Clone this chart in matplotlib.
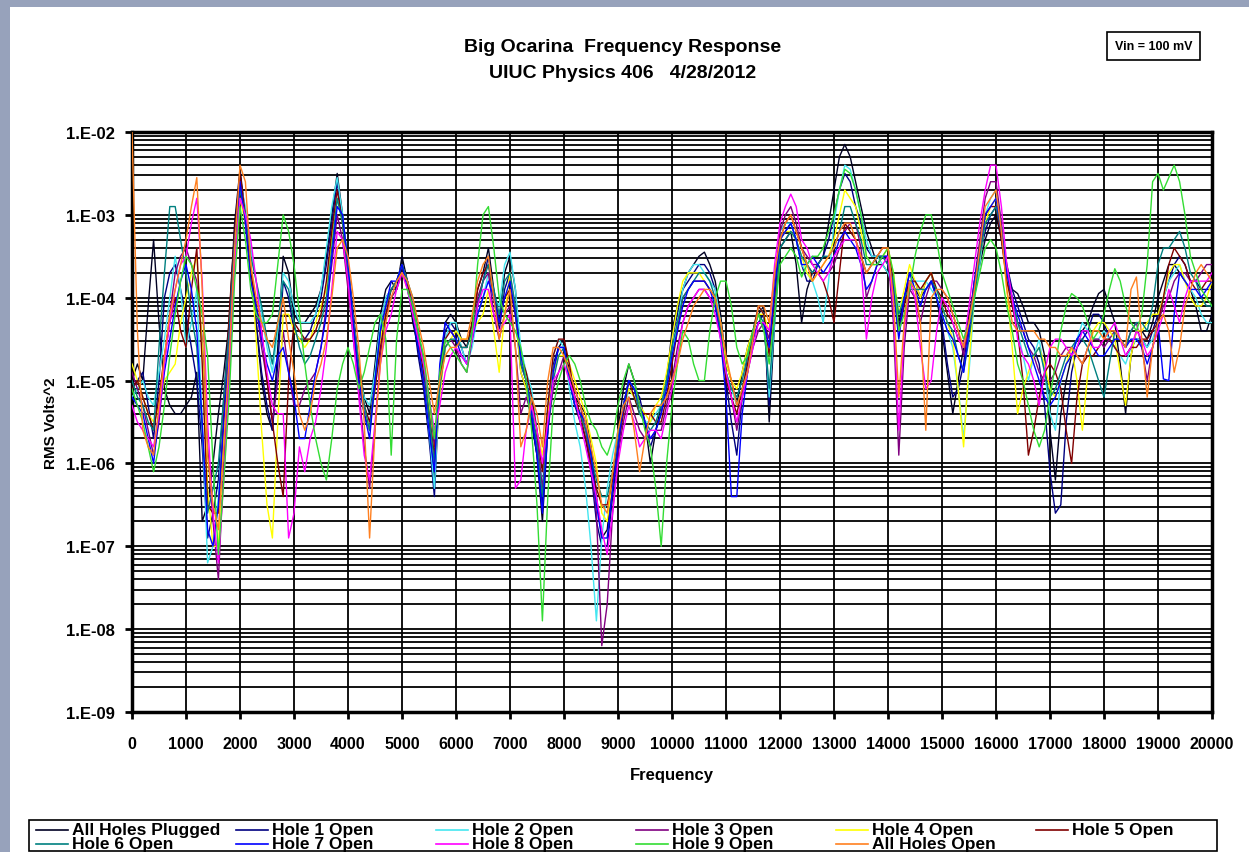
import numpy as np
import matplotlib
matplotlib.use("Agg")
import matplotlib.pyplot as plt
from matplotlib.patches import Rectangle
from matplotlib.lines import Line2D
from matplotlib.ticker import LogLocator, FuncFormatter, NullFormatter, FixedLocator

plt.rcParams['font.family'] = ['Liberation Sans', 'DejaVu Sans']
plt.rcParams['font.weight'] = 'bold'

# Frequency grid (Hz), 100 Hz steps
freq = list(range(0, 20001, 100))

# Response of each fingering, given as log10(RMS Volts^2)
all_plugged = [
    -5.0, -4.8, -5.0, -4.1, -3.3, -4.3, -5.1, -5.3, -5.4, -5.4, -5.3, -5.2, -4.9, -6.7, -6.5, -6.0, -5.4, -4.9, -4.3, -3.1,
    -2.45, -3.0, -3.6, -4.3, -5.0, -5.4, -5.6, -4.6, -3.5, -3.7, -4.2, -4.3, -4.3, -4.2, -4.1, -3.9, -3.5, -3.0, -2.5, -3.0,
    -3.6, -4.2, -4.8, -5.2, -5.4, -4.8, -4.2, -3.9, -3.8, -3.9, -3.5, -3.8, -4.3, -4.6, -5.0, -5.5, -6.2, -4.9, -4.3, -4.2,
    -4.3, -4.5, -4.6, -4.3, -3.9, -3.7, -3.4, -3.9, -4.3, -3.7, -3.5, -3.9, -4.8, -5.0, -5.5, -5.9, -6.7, -5.6, -4.9, -4.6,
    -4.5, -4.9, -5.2, -5.3, -5.4, -5.8, -6.4, -6.9, -6.8, -6.2, -5.6, -5.1, -4.8, -5.0, -5.3, -5.5, -6.0, -5.6, -5.3, -5.0,
    -4.4, -4.1, -3.9, -3.7, -3.6, -3.5, -3.45, -3.6, -3.8, -4.2, -4.8, -5.0, -5.3, -4.9, -4.6, -4.4, -4.2, -4.1, -5.5, -4.3,
    -3.4, -3.3, -3.2, -3.6, -4.3, -3.9, -3.7, -3.6, -3.5, -3.1, -2.7, -2.3, -2.15, -2.3, -2.6, -2.9, -3.2, -3.4, -3.6, -3.6,
    -3.7, -3.9, -4.3, -4.0, -3.8, -3.9, -4.0, -3.8, -3.7, -4.0, -4.4, -4.9, -5.4, -5.0, -4.6, -4.2, -3.9, -3.6, -3.3, -3.1,
    -3.0, -3.3, -3.7, -3.9, -3.95, -4.1, -4.3, -4.3, -4.4, -4.7, -5.6, -6.2, -5.4, -5.0, -4.7, -4.5, -4.4, -4.3, -4.1, -3.95,
    -3.9, -4.1, -4.3, -4.8, -5.4, -4.7, -4.4, -4.4, -4.5, -4.3, -4.0, -3.8, -3.6, -3.6, -3.7, -3.8, -3.9, -4.1, -4.4, -4.4,
    -4.2]
hole1 = [
    -5.1, -5.0, -4.9, -5.3, -5.7, -5.0, -4.0, -3.7, -3.6, -3.9, -4.2, -4.6, -5.0, -5.8, -6.9, -6.6, -6.2, -5.2, -4.3, -3.2,
    -2.5, -3.1, -3.7, -4.3, -4.9, -5.3, -5.6, -4.8, -3.8, -4.0, -4.4, -4.5, -4.5, -4.4, -4.2, -4.0, -3.6, -3.1, -2.6, -3.1,
    -3.6, -4.3, -5.0, -5.4, -5.6, -5.0, -4.3, -4.0, -3.9, -3.9, -3.6, -3.8, -4.2, -4.7, -5.1, -5.7, -6.4, -5.0, -4.4, -4.3,
    -4.4, -4.6, -4.8, -4.5, -4.1, -3.8, -3.5, -4.0, -4.4, -3.9, -3.7, -4.2, -4.9, -5.1, -5.5, -5.9, -6.5, -5.4, -4.8, -4.6,
    -4.6, -5.0, -5.3, -5.5, -5.7, -6.1, -6.7, -7.0, -7.0, -6.4, -5.8, -5.3, -5.0, -5.1, -5.2, -5.5, -5.8, -5.6, -5.4, -5.0,
    -4.5, -4.2, -3.9, -3.8, -3.7, -3.6, -3.6, -3.7, -3.9, -4.3, -5.0, -5.5, -5.9, -5.2, -4.7, -4.5, -4.3, -4.2, -5.3, -4.2,
    -3.3, -3.2, -3.1, -3.3, -3.6, -3.8, -3.8, -3.6, -3.5, -3.3, -3.0, -2.7, -2.5, -2.6, -2.9, -3.1, -3.4, -3.5, -3.5, -3.5,
    -3.6, -3.9, -4.4, -4.0, -3.7, -3.8, -4.0, -3.9, -3.8, -4.0, -4.3, -4.8, -5.2, -5.1, -4.8, -4.3, -3.8, -3.5, -3.2, -3.0,
    -2.9, -3.2, -3.6, -3.9, -4.1, -4.3, -4.5, -4.6, -4.8, -5.3, -6.1, -6.6, -6.5, -5.5, -4.9, -4.6, -4.5, -4.4, -4.2, -4.2,
    -4.3, -4.5, -4.6, -4.7, -4.7, -4.6, -4.5, -4.5, -4.6, -4.4, -4.2, -4.0, -3.8, -3.6, -3.5, -3.6, -3.8, -3.8, -3.9, -3.9,
    -3.9]
hole2 = [
    -5.2, -5.1, -5.0, -5.2, -5.3, -4.9, -4.5, -4.0, -3.5, -3.9, -4.6, -4.3, -3.9, -5.5, -7.2, -7.0, -6.4, -5.4, -4.6, -3.4,
    -2.6, -2.9, -3.4, -3.8, -4.2, -4.6, -4.9, -4.4, -3.7, -3.8, -4.1, -4.3, -4.3, -4.3, -4.2, -3.9, -3.4, -2.9, -2.55, -3.0,
    -3.6, -4.3, -4.9, -5.2, -5.3, -4.9, -4.3, -4.0, -3.9, -3.8, -3.6, -3.8, -4.1, -4.5, -4.9, -5.6, -6.3, -5.0, -4.5, -4.3,
    -4.3, -4.6, -4.8, -4.6, -4.2, -4.0, -3.7, -4.0, -4.1, -3.6, -3.45, -3.9, -4.6, -4.9, -5.1, -5.6, -6.3, -5.3, -4.7, -4.5,
    -4.6, -5.1, -5.5, -5.8, -6.3, -7.0, -7.9, -6.9, -6.3, -5.9, -5.6, -5.4, -5.1, -5.2, -5.4, -5.5, -5.5, -5.4, -5.3, -5.0,
    -4.7, -4.3, -3.9, -3.7, -3.6, -3.6, -3.7, -3.8, -3.9, -4.3, -4.9, -5.1, -5.3, -5.1, -4.8, -4.4, -4.1, -4.2, -5.2, -4.3,
    -3.2, -3.1, -3.1, -3.3, -3.6, -3.7, -3.8, -4.0, -4.3, -3.8, -3.1, -2.7, -2.4, -2.45, -2.7, -3.0, -3.3, -3.5, -3.5, -3.6,
    -3.7, -3.9, -4.1, -4.0, -3.9, -3.8, -3.8, -3.8, -3.9, -4.0, -4.2, -4.4, -4.6, -5.1, -5.7, -4.9, -4.0, -3.6, -3.0, -2.8,
    -2.7, -3.1, -3.7, -4.0, -4.4, -4.7, -5.0, -4.7, -4.5, -4.9, -5.4, -5.6, -5.0, -4.8, -4.7, -4.5, -4.3, -4.4, -4.5, -4.5,
    -4.4, -4.5, -4.6, -4.7, -4.8, -4.6, -4.5, -4.5, -4.6, -4.5, -4.3, -4.0, -3.8, -3.7, -3.6, -3.8, -3.9, -4.0, -4.2, -4.3,
    -4.3]
hole3 = [
    -4.9, -5.1, -5.3, -5.6, -5.9, -5.5, -4.8, -4.2, -3.7, -3.5, -3.4, -3.6, -3.8, -4.5, -5.8, -6.7, -7.4, -6.0, -4.8, -3.4,
    -2.6, -3.1, -3.7, -4.1, -4.6, -5.0, -5.5, -5.0, -4.4, -4.9, -5.3, -5.3, -5.1, -5.0, -4.9, -4.6, -4.1, -3.6, -3.0, -3.3,
    -3.9, -4.5, -5.1, -5.8, -6.3, -5.6, -4.7, -4.2, -4.0, -3.9, -3.7, -3.8, -4.1, -4.4, -4.8, -5.2, -5.8, -5.1, -4.6, -4.5,
    -4.6, -4.8, -4.9, -4.5, -4.0, -3.8, -3.7, -4.2, -4.5, -4.2, -4.1, -4.6, -5.4, -5.2, -5.4, -5.7, -6.3, -5.6, -5.1, -4.9,
    -4.7, -4.9, -5.1, -5.3, -5.6, -6.0, -6.6, -8.2, -7.7, -6.6, -5.9, -5.5, -5.2, -5.4, -5.6, -5.7, -5.7, -5.6, -5.6, -5.3,
    -5.0, -4.6, -4.3, -4.1, -4.0, -3.9, -3.9, -4.0, -4.1, -4.4, -4.9, -5.2, -5.6, -5.2, -4.9, -4.6, -4.4, -4.3, -4.5, -3.8,
    -3.2, -3.0, -2.9, -3.1, -3.4, -3.5, -3.6, -3.6, -3.7, -3.7, -3.6, -3.4, -3.2, -3.1, -3.1, -3.4, -4.0, -3.8, -3.6, -3.5,
    -3.5, -4.3, -5.9, -4.6, -3.9, -4.0, -4.3, -4.0, -3.8, -3.8, -3.9, -4.0, -4.2, -4.4, -4.7, -4.3, -3.8, -3.3, -2.8, -2.6,
    -2.6, -3.1, -3.8, -4.0, -4.3, -4.4, -4.6, -4.7, -4.9, -5.0, -5.0, -4.9, -4.7, -4.6, -4.6, -4.7, -4.8, -4.6, -4.5, -4.5,
    -4.6, -4.5, -4.4, -4.5, -4.6, -4.4, -4.3, -4.6, -5.0, -4.6, -4.3, -4.1, -4.0, -3.8, -3.7, -3.7, -3.8, -3.8, -3.7, -3.6,
    -3.6]
hole4 = [
    -4.8, -5.0, -5.2, -5.4, -5.5, -5.3, -5.0, -4.9, -4.8, -4.3, -4.0, -3.7, -3.5, -4.6, -6.3, -7.0, -7.0, -5.6, -4.4, -3.4,
    -2.8, -3.1, -3.6, -4.5, -5.6, -6.5, -6.9, -5.5, -4.2, -4.2, -4.4, -4.5, -4.6, -4.5, -4.3, -4.1, -3.9, -3.3, -2.8, -3.1,
    -3.7, -4.3, -4.8, -5.3, -5.6, -5.1, -4.5, -4.1, -3.9, -3.8, -3.7, -3.9, -4.2, -4.5, -4.7, -5.3, -6.0, -5.2, -4.6, -4.5,
    -4.4, -4.5, -4.5, -4.4, -4.3, -4.2, -3.9, -4.4, -4.9, -4.2, -3.7, -4.2, -4.9, -5.1, -5.4, -5.6, -5.9, -5.4, -4.9, -4.7,
    -4.7, -4.8, -5.0, -5.2, -5.4, -5.7, -6.0, -6.6, -6.7, -6.2, -5.7, -5.3, -5.1, -5.2, -5.3, -5.4, -5.5, -5.3, -5.2, -4.9,
    -4.5, -4.1, -3.8, -3.7, -3.7, -3.7, -3.8, -3.9, -4.0, -4.3, -4.8, -5.0, -5.1, -4.9, -4.6, -4.4, -4.2, -4.2, -4.4, -3.9,
    -3.3, -3.2, -3.2, -3.3, -3.5, -3.7, -3.8, -3.7, -3.6, -3.5, -3.3, -3.0, -2.7, -2.8, -2.9, -3.2, -3.5, -3.6, -3.6, -3.5,
    -3.4, -3.7, -4.2, -3.9, -3.6, -3.8, -4.0, -3.8, -3.7, -3.9, -4.1, -4.3, -4.5, -5.1, -5.8, -4.8, -3.9, -3.5, -3.1, -2.9,
    -2.8, -3.2, -3.9, -4.6, -5.4, -5.1, -4.9, -4.7, -4.6, -4.8, -5.1, -5.2, -5.0, -4.8, -4.6, -5.0, -5.6, -4.9, -4.4, -4.3,
    -4.3, -4.4, -4.5, -4.9, -5.3, -4.7, -4.4, -4.4, -4.3, -4.2, -4.2, -4.0, -3.7, -3.6, -3.6, -3.8, -4.0, -4.1, -4.1, -4.0,
    -3.8]
hole5 = [
    -5.1, -5.0, -5.2, -5.4, -5.6, -5.2, -4.7, -4.3, -4.0, -4.4, -4.6, -3.9, -3.4, -4.8, -6.5, -6.6, -6.6, -5.4, -4.2, -3.2,
    -2.5, -3.0, -3.7, -4.1, -4.4, -5.0, -5.5, -6.0, -6.4, -5.0, -4.3, -4.4, -4.5, -4.5, -4.4, -4.2, -3.8, -3.2, -2.7, -3.1,
    -3.8, -4.4, -4.9, -5.3, -5.5, -5.1, -4.6, -4.2, -3.9, -3.8, -3.6, -3.8, -4.2, -4.5, -4.9, -5.4, -5.9, -5.0, -4.5, -4.4,
    -4.5, -4.6, -4.6, -4.3, -3.9, -3.7, -3.6, -4.0, -4.3, -4.0, -3.9, -4.2, -4.7, -4.9, -5.2, -5.6, -6.1, -5.3, -4.7, -4.5,
    -4.5, -4.8, -5.2, -5.4, -5.7, -6.0, -6.3, -6.5, -6.5, -6.2, -5.8, -5.4, -5.0, -5.2, -5.4, -5.4, -5.4, -5.5, -5.5, -5.2,
    -4.8, -4.4, -4.0, -3.9, -3.8, -3.8, -3.8, -3.9, -4.0, -4.4, -5.0, -5.2, -5.4, -5.1, -4.8, -4.4, -4.1, -4.2, -4.7, -4.0,
    -3.3, -3.1, -3.0, -3.2, -3.4, -3.6, -3.7, -3.7, -3.8, -4.0, -4.3, -3.7, -3.1, -3.2, -3.3, -3.5, -3.7, -3.6, -3.5, -3.4,
    -3.4, -3.8, -4.4, -4.1, -3.8, -3.8, -3.9, -3.8, -3.7, -3.9, -4.0, -4.2, -4.3, -4.5, -4.6, -4.3, -3.9, -3.4, -3.0, -2.9,
    -2.9, -3.3, -3.8, -4.1, -4.4, -5.0, -5.9, -5.6, -5.2, -4.9, -4.8, -4.9, -5.1, -5.6, -6.0, -5.2, -4.8, -4.7, -4.7, -4.6,
    -4.5, -4.5, -4.6, -4.7, -4.7, -4.6, -4.6, -4.5, -4.5, -4.4, -4.3, -4.0, -3.6, -3.4, -3.5, -3.6, -3.8, -3.9, -3.9, -3.8,
    -3.8]
hole6 = [
    -5.0, -5.2, -5.3, -5.5, -5.6, -4.6, -3.7, -2.9, -2.9, -3.3, -3.7, -4.2, -4.6, -5.6, -6.6, -6.3, -6.0, -5.2, -4.4, -3.3,
    -2.7, -3.0, -3.5, -3.8, -4.1, -4.5, -4.8, -4.3, -3.8, -3.9, -4.3, -4.6, -4.8, -4.7, -4.5, -4.3, -4.0, -3.4, -2.8, -3.1,
    -3.7, -4.3, -4.8, -5.3, -5.6, -5.0, -4.4, -4.1, -3.9, -3.8, -3.6, -3.8, -4.0, -4.4, -4.8, -5.4, -6.0, -5.1, -4.6, -4.5,
    -4.5, -4.6, -4.6, -4.4, -4.1, -3.8, -3.6, -3.9, -4.2, -3.8, -3.7, -4.1, -4.8, -5.0, -5.3, -5.8, -6.4, -5.6, -5.0, -4.7,
    -4.6, -5.0, -5.3, -5.4, -5.6, -5.9, -6.2, -6.4, -6.4, -6.1, -5.7, -5.3, -5.0, -5.1, -5.4, -5.5, -5.6, -5.5, -5.3, -5.0,
    -4.6, -4.3, -4.0, -3.9, -3.8, -3.7, -3.7, -3.8, -4.0, -4.4, -4.9, -5.1, -5.2, -5.0, -4.7, -4.4, -4.2, -4.3, -5.1, -4.2,
    -3.4, -3.3, -3.2, -3.3, -3.5, -3.6, -3.7, -3.6, -3.5, -3.5, -3.4, -3.2, -2.9, -2.9, -3.1, -3.3, -3.6, -3.6, -3.5, -3.5,
    -3.6, -3.8, -4.2, -4.0, -3.9, -3.9, -3.9, -3.9, -3.8, -3.9, -4.1, -4.3, -4.4, -4.7, -4.9, -4.5, -4.0, -3.5, -3.1, -3.0,
    -2.9, -3.2, -3.7, -4.0, -4.3, -4.5, -4.7, -4.7, -4.6, -4.9, -5.2, -5.1, -4.9, -4.7, -4.6, -4.5, -4.5, -4.6, -4.8, -5.0,
    -5.2, -4.8, -4.4, -4.5, -4.6, -4.4, -4.3, -4.3, -4.4, -4.1, -3.6, -3.4, -3.4, -3.3, -3.2, -3.4, -3.7, -3.8, -4.0, -4.1,
    -4.1]
hole7 = [
    -5.2, -5.3, -5.4, -5.7, -6.0, -5.4, -4.9, -4.5, -4.1, -3.8, -3.6, -3.9, -4.4, -5.5, -6.8, -7.0, -6.5, -5.5, -4.6, -3.4,
    -2.6, -3.1, -3.8, -4.1, -4.5, -4.8, -5.0, -4.7, -4.6, -4.9, -5.2, -5.7, -5.7, -5.3, -4.9, -4.6, -4.2, -3.5, -2.9, -3.0,
    -3.6, -4.3, -5.0, -5.4, -5.7, -5.0, -4.4, -4.1, -3.8, -3.8, -3.6, -3.9, -4.2, -4.6, -5.0, -5.6, -6.1, -4.8, -4.3, -4.4,
    -4.5, -4.7, -4.8, -4.5, -4.2, -4.0, -3.8, -4.0, -4.3, -4.0, -3.8, -4.2, -4.7, -5.0, -5.4, -5.9, -6.6, -5.6, -4.9, -4.6,
    -4.6, -5.0, -5.3, -5.4, -5.5, -5.9, -6.5, -6.9, -6.9, -6.3, -5.8, -5.3, -5.0, -5.1, -5.3, -5.5, -5.7, -5.6, -5.4, -5.1,
    -4.7, -4.4, -4.1, -3.9, -3.8, -3.8, -3.8, -3.9, -4.1, -4.5, -5.2, -6.4, -6.4, -5.4, -4.9, -4.5, -4.3, -4.3, -4.6, -3.9,
    -3.3, -3.2, -3.1, -3.3, -3.6, -3.6, -3.5, -3.6, -3.7, -3.6, -3.5, -3.3, -3.2, -3.3, -3.4, -3.6, -3.9, -3.8, -3.6, -3.5,
    -3.5, -3.9, -4.5, -4.0, -3.7, -3.9, -4.1, -3.9, -3.8, -4.0, -4.2, -4.4, -4.5, -4.7, -4.9, -4.4, -3.8, -3.4, -3.0, -2.9,
    -2.8, -3.2, -3.7, -4.0, -4.2, -4.4, -4.6, -4.8, -5.0, -5.2, -5.3, -5.2, -5.0, -4.8, -4.7, -4.5, -4.4, -4.5, -4.6, -4.7,
    -4.7, -4.6, -4.5, -4.5, -4.6, -4.5, -4.5, -4.6, -4.8, -4.6, -4.3, -4.98, -5.0, -4.2, -3.7, -3.8, -3.9, -3.9, -4.0, -3.9,
    -3.8]
hole8 = [
    -5.3, -5.5, -5.6, -5.7, -5.8, -5.4, -4.8, -4.3, -3.9, -3.6, -3.5, -3.1, -2.8, -3.8, -5.5, -6.6, -7.2, -6.2, -5.0, -3.6,
    -2.8, -3.0, -3.3, -3.8, -4.4, -4.9, -5.3, -5.4, -5.4, -6.9, -6.6, -5.8, -6.1, -5.7, -5.5, -5.1, -4.6, -3.9, -3.2, -3.3,
    -3.8, -4.5, -5.2, -5.9, -6.2, -5.5, -4.8, -4.4, -4.2, -3.9, -3.7, -3.9, -4.2, -4.5, -4.8, -5.2, -5.6, -5.3, -4.9, -4.7,
    -4.6, -4.7, -4.8, -4.5, -4.1, -3.9, -3.9, -4.2, -4.4, -4.3, -4.2, -6.3, -6.2, -5.6, -5.3, -5.6, -6.0, -5.5, -5.0, -4.9,
    -4.8, -5.0, -5.2, -5.5, -5.8, -6.1, -6.4, -6.8, -7.1, -6.6, -6.0, -5.6, -5.3, -5.5, -5.8, -5.7, -5.6, -5.6, -5.7, -5.4,
    -5.1, -4.7, -4.3, -4.1, -4.0, -3.9, -3.9, -4.0, -4.2, -4.5, -4.9, -5.2, -5.5, -5.2, -4.9, -4.6, -4.3, -4.3, -4.4, -3.6,
    -3.1, -2.9, -2.75, -2.9, -3.3, -3.4, -3.6, -3.7, -3.8, -3.7, -3.5, -3.4, -3.3, -3.3, -3.3, -3.6, -4.5, -4.0, -3.7, -3.6,
    -3.5, -4.1, -5.6, -4.4, -3.8, -4.0, -4.6, -5.1, -5.0, -4.4, -4.0, -4.1, -4.3, -4.5, -4.6, -4.1, -3.6, -3.1, -2.7, -2.4,
    -2.4, -2.9, -3.6, -4.0, -4.5, -4.7, -4.8, -5.0, -5.3, -4.9, -4.6, -4.5, -4.5, -4.6, -4.7, -4.6, -4.4, -4.4, -4.6, -4.6,
    -4.5, -4.4, -4.3, -4.5, -4.7, -4.6, -4.4, -4.5, -4.7, -4.6, -4.4, -4.2, -3.9, -4.1, -4.3, -4.0, -3.8, -3.8, -3.8, -3.8,
    -3.7]
hole9 = [
    -5.1, -5.3, -5.5, -5.8, -6.1, -5.8, -5.3, -4.7, -4.2, -3.8, -3.5, -3.6, -3.9, -4.2, -4.7, -6.0, -7.1, -6.2, -5.2, -3.8,
    -2.9, -3.3, -3.9, -4.2, -4.3, -4.3, -4.2, -3.6, -3.0, -3.2, -3.6, -4.2, -4.8, -5.3, -5.7, -6.0, -6.2, -5.7, -5.1, -4.8,
    -4.6, -4.8, -5.1, -4.9, -4.6, -4.3, -4.2, -4.5, -5.9, -4.5, -3.9, -3.9, -4.1, -4.4, -4.7, -5.2, -5.7, -4.9, -4.5, -4.6,
    -4.7, -4.8, -4.9, -4.4, -3.6, -3.0, -2.9, -3.4, -4.0, -4.2, -4.3, -4.4, -4.6, -5.0, -5.6, -6.5, -7.9, -6.4, -5.3, -5.0,
    -4.8, -4.7, -4.8, -5.0, -5.3, -5.5, -5.6, -5.8, -5.9, -5.7, -5.3, -5.0, -4.8, -5.0, -5.3, -5.6, -5.8, -6.3, -7.0, -6.0,
    -5.3, -4.8, -4.4, -4.5, -4.8, -5.0, -5.0, -4.4, -4.0, -3.8, -3.8, -4.1, -4.6, -4.8, -4.7, -4.4, -4.2, -4.4, -4.8, -4.2,
    -3.6, -3.5, -3.4, -3.5, -3.75, -3.6, -3.5, -3.5, -3.4, -3.2, -3.0, -2.7, -2.45, -2.5, -2.7, -3.0, -3.5, -3.6, -3.6, -3.5,
    -3.4, -3.7, -4.4, -4.2, -3.9, -3.5, -3.2, -3.0, -3.0, -3.3, -3.7, -3.9, -4.1, -4.3, -4.5, -4.3, -4.0, -3.7, -3.4, -3.3,
    -3.4, -3.7, -4.1, -4.4, -4.8, -5.0, -5.3, -5.6, -5.8, -5.6, -5.2, -4.8, -4.4, -4.1, -3.95, -4.0, -4.1, -4.3, -4.5, -4.4,
    -4.2, -3.9, -3.65, -3.8, -4.1, -4.3, -4.4, -4.2, -3.6, -2.6, -2.5, -2.7, -2.55, -2.4, -2.6, -3.0, -3.5, -3.7, -3.9, -4.0,
    -4.1]
all_open = [
    -2.0, -4.4, -5.6, -5.8, -5.9, -5.3, -4.7, -4.2, -3.9, -3.6, -3.3, -2.9, -2.55, -3.9, -5.9, -6.5, -6.8, -5.8, -4.7, -3.4,
    -2.4, -2.6, -3.6, -4.0, -4.3, -4.5, -4.6, -4.3, -4.0, -4.5, -4.9, -5.4, -5.6, -5.4, -5.0, -4.8, -4.5, -4.0, -3.4, -3.3,
    -3.5, -4.0, -4.6, -5.5, -6.9, -5.6, -4.8, -4.3, -4.0, -3.8, -3.7, -3.8, -4.0, -4.3, -4.6, -5.0, -5.4, -5.0, -4.7, -4.6,
    -4.6, -4.5, -4.5, -4.2, -3.8, -3.6, -3.5, -4.0, -4.5, -4.2, -3.9, -4.6, -5.8, -5.6, -5.2, -5.4, -5.8, -5.0, -4.6, -4.6,
    -4.7, -4.9, -5.1, -5.3, -5.5, -5.8, -6.1, -6.5, -6.6, -6.1, -5.6, -5.3, -5.2, -5.6, -6.1, -5.7, -5.4, -5.3, -5.3, -5.2,
    -5.0, -4.8, -4.5, -4.3, -4.1, -4.0, -3.9, -3.9, -4.0, -4.3, -4.7, -5.0, -5.3, -5.1, -4.9, -4.5, -4.1, -4.1, -4.3, -3.7,
    -3.3, -3.1, -3.0, -3.2, -3.4, -3.6, -3.8, -3.7, -3.6, -3.5, -3.4, -3.2, -3.1, -3.1, -3.3, -3.5, -3.7, -3.6, -3.5, -3.4,
    -3.4, -4.0, -5.2, -4.3, -3.8, -3.9, -4.3, -5.6, -4.0, -3.9, -3.9, -4.0, -4.2, -4.4, -4.6, -4.3, -3.9, -3.4, -2.9, -2.8,
    -2.7, -3.2, -3.9, -4.3, -4.4, -4.4, -4.4, -4.4, -4.5, -4.5, -4.6, -4.6, -4.7, -4.7, -4.6, -4.7, -4.8, -4.6, -4.4, -4.4,
    -4.5, -4.4, -4.4, -4.5, -4.6, -3.9, -3.75, -4.5, -5.2, -4.6, -4.3, -4.2, -4.4, -4.9, -4.6, -4.1, -3.9, -3.7, -3.6, -3.7,
    -3.8]

series_names = ["All Holes Plugged", "Hole 1 Open", "Hole 2 Open", "Hole 3 Open",
                "Hole 4 Open", "Hole 5 Open", "Hole 6 Open", "Hole 7 Open",
                "Hole 8 Open", "Hole 9 Open", "All Holes Open"]
series_data = [all_plugged, hole1, hole2, hole3, hole4, hole5,
               hole6, hole7, hole8, hole9, all_open]
series_colors = ["#000022", "#000080", "#44e6f0", "#800080", "#ffff00", "#800000",
                 "#008080", "#0000ff", "#ff00ff", "#33dd33", "#ff8020"]

W, H = 1249, 853
fig = plt.figure(figsize=(W / 100, H / 100), dpi=100)
fig.patch.set_facecolor("#97a2bb")
fig.add_artist(Rectangle((10 / W, 0), 1 - 10 / W, 1 - 8 / H, transform=fig.transFigure,
                         facecolor="white", edgecolor="none", zorder=0))

ax = fig.add_axes([132 / W, 1 - 713 / H, (1212 - 132) / W, (713 - 133) / H])
ax.set_facecolor("white")

f = np.array(freq)
for name, vals, col in zip(series_names, series_data, series_colors):
    ax.plot(f, 10.0 ** np.array(vals), color=col, lw=1.0, label=name, zorder=3)

ax.set_yscale("log")
ax.set_ylim(1e-9, 1e-2)
ax.set_xlim(0, 20000)
ax.xaxis.set_major_locator(FixedLocator(list(range(0, 20001, 1000))))
ax.yaxis.set_major_locator(LogLocator(base=10, numticks=20))
ax.yaxis.set_minor_locator(LogLocator(base=10, subs=np.arange(2, 10), numticks=20))
ax.yaxis.set_minor_formatter(NullFormatter())
ax.yaxis.set_major_formatter(FuncFormatter(lambda v, p: "1.E%03d" % int(round(np.log10(v)))))

ax.grid(which="both", axis="y", color="black", lw=1.3, zorder=1)
ax.grid(which="major", axis="x", color="black", lw=1.3, zorder=1)
ax.set_axisbelow(True)
for s in ax.spines.values():
    s.set_linewidth(2.5)
    s.set_color("black")
ax.tick_params(axis="both", which="major", direction="out", length=5, width=2,
               labelsize=12, pad=7)
ax.tick_params(axis="y", which="minor", length=0)
ax.tick_params(axis="x", labelsize=11.5, pad=12)
for lab in ax.get_xticklabels() + ax.get_yticklabels():
    lab.set_fontweight("bold")

ax.set_ylabel("RMS Volts^2", fontsize=11, fontweight="bold", labelpad=6)
ax.set_xlabel("Frequency", fontsize=12, fontweight="bold", labelpad=12)

fig.text(623 / W, 1 - 48 / H, "Big Ocarina  Frequency Response", ha="center", va="center",
         fontsize=14, fontweight="bold")
fig.text(623 / W, 1 - 73 / H, "UIUC Physics 406   4/28/2012", ha="center", va="center",
         fontsize=14, fontweight="bold")

# Input level box
fig.add_artist(Rectangle((1107 / W, 1 - 61 / H), 93 / W, 28 / H, transform=fig.transFigure,
                         facecolor="white", edgecolor="black", lw=1.2))
fig.text(1154 / W, 1 - 47 / H, "Vin = 100 mV", ha="center", va="center",
         fontsize=9, fontweight="bold")

# Legend box along the bottom
fig.add_artist(Rectangle((29 / W, 1 - 852 / H), (1217 - 29) / W, 31 / H, transform=fig.transFigure,
                         facecolor="white", edgecolor="black", lw=1.2))
row_y = [831, 845]
for i, (name, col) in enumerate(zip(series_names, series_colors)):
    r, c = divmod(i, 6)
    x0 = 36 + 200 * c
    x1 = x0 + 32
    y = 1 - row_y[r] / H
    fig.add_artist(Line2D([x0 / W, x1 / W], [y, y], transform=fig.transFigure,
                          color=col, lw=1.2))
    fig.text((x1 + 4) / W, y, name, ha="left", va="center", fontsize=12.5, fontweight="bold")

fig.savefig("out.png", dpi=100, facecolor=fig.get_facecolor())
